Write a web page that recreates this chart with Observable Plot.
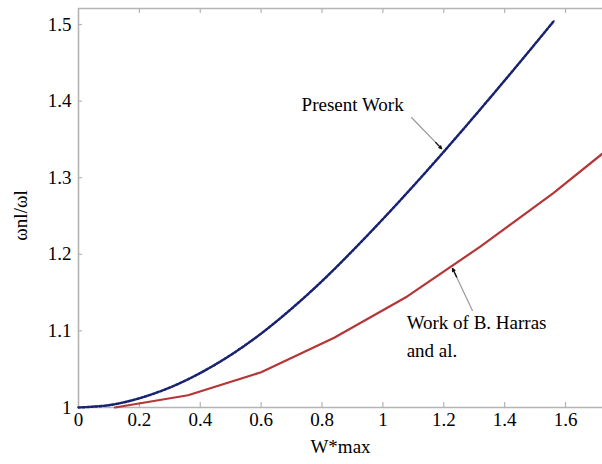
<!DOCTYPE html>
<html>
<head>
<meta charset="utf-8">
<script src="https://cdn.jsdelivr.net/npm/d3@7"></script>
<script src="https://cdn.jsdelivr.net/npm/@observablehq/plot@0.6"></script>
<style>
  html, body { margin: 0; padding: 0; background: #fff; }
  #chart svg text { font-family: "Liberation Serif", "Times New Roman", serif; }
</style>
</head>
<body>
<div id="chart"></div>
<script>
// Present Work (blue dashed)
const presentX = [0, 0.1, 0.2, 0.3, 0.4, 0.5, 0.6, 0.7, 0.8, 0.9, 1.0, 1.1, 1.2, 1.3, 1.4, 1.5, 1.562];
const presentY = [1.000, 1.003, 1.012, 1.026, 1.045, 1.0685, 1.0965, 1.129, 1.165, 1.2045, 1.246, 1.2892, 1.3339, 1.3799, 1.4269, 1.4747, 1.5047];
// Work of B. Harras and al. (red solid)
const harrasX = [0.12, 0.36, 0.6, 0.84, 1.08, 1.32, 1.56, 1.72];
const harrasY = [1.000, 1.016, 1.046, 1.091, 1.145, 1.210, 1.280, 1.331];

const xTicks = [0, 0.2, 0.4, 0.6, 0.8, 1, 1.2, 1.4, 1.6];
const yTicks = [1, 1.1, 1.2, 1.3, 1.4, 1.5];
const xLabel = "W*max";
const yLabel = "ωnl/ωl";

// annotations (data coordinates)
const notes = [
  {text: "Present Work", x: 0.733, y: 1.3956},
  {text: "Work of B. Harras", x: 1.078, y: 1.111},
  {text: "and al.", x: 1.078, y: 1.0744}
];
const arrows = [
  {x1: 1.094, y1: 1.3786, x2: 1.193, y2: 1.338},
  {x1: 1.294, y1: 1.1266, x2: 1.229, y2: 1.1815}
];

const present = presentX.map((x, i) => ({x, y: presentY[i]}));
const harras = harrasX.map((x, i) => ({x, y: harrasY[i]}));
const heads = arrows.map(a => ({
  x1: a.x1 + (a.x2 - a.x1) * 0.8, y1: a.y1 + (a.y2 - a.y1) * 0.8, x2: a.x2, y2: a.y2
}));

const W = 602, H = 464;
const mL = 78, mR = 0, mT = 8, mB = 57;
const pw = W - mL - mR, ph = H - mT - mB;
const gray = "#b4b4b4";
const ff = "Liberation Serif, Times New Roman, serif";
const fs = 19;
const fmt = d => String(+d.toFixed(1));

const chart = Plot.plot({
  width: W, height: H,
  marginLeft: mL, marginRight: mR, marginTop: mT, marginBottom: mB,
  x: {domain: [0, 1.7215], axis: null},
  y: {domain: [1, 1.5209], axis: null},
  marks: [
    Plot.ruleY([1, 1.5209], {stroke: gray, strokeWidth: 1.6}),
    Plot.ruleX([0], {stroke: gray, strokeWidth: 1.6}),
    Plot.ruleX(xTicks.slice(1), {stroke: gray, strokeWidth: 1.2, insetTop: ph - 5}),
    Plot.ruleX(xTicks.slice(1), {stroke: gray, strokeWidth: 1.2, insetBottom: ph - 5}),
    Plot.ruleY(yTicks.slice(1), {stroke: gray, strokeWidth: 1.2, insetRight: pw - 4}),
    Plot.text(xTicks, {x: d => d, frameAnchor: "bottom", dy: 18, text: fmt, fontSize: fs, fontFamily: ff, fill: "#000"}),
    Plot.text(yTicks, {y: d => d, frameAnchor: "left", dx: -7, textAnchor: "end", text: fmt, fontSize: fs, fontFamily: ff, fill: "#000"}),
    Plot.text([xLabel], {frameAnchor: "bottom", dy: 45, fontSize: fs, fontFamily: ff, fill: "#000"}),
    Plot.text([yLabel], {x: () => 0, y: () => 1.2507, rotate: -90, dx: -58, fontSize: fs, fontFamily: ff, fill: "#000"}),
    Plot.line(harras, {x: "x", y: "y", stroke: "#b53636", strokeWidth: 2.2}),
    Plot.line(present, {x: "x", y: "y", stroke: "#7282c8", strokeWidth: 2.2, curve: "catmull-rom"}),
    Plot.line(present, {x: "x", y: "y", stroke: "#18226e", strokeWidth: 2.4, strokeDasharray: "2.2,2", curve: "catmull-rom"}),
    Plot.arrow(arrows, {x1: "x1", y1: "y1", x2: "x2", y2: "y2", stroke: "#9a9a9a", strokeWidth: 1.2, headLength: 0}),
    Plot.arrow(heads, {x1: "x1", y1: "y1", x2: "x2", y2: "y2", stroke: "#111", strokeWidth: 1.3, headLength: 8, headAngle: 50}),
    Plot.text(notes, {x: "x", y: "y", text: "text", textAnchor: "start", fontSize: fs, fontFamily: ff, fill: "#000"})
  ]
});
chart.setAttribute("font-family", ff);
document.getElementById("chart").appendChild(chart);
</script>
</body>
</html>
